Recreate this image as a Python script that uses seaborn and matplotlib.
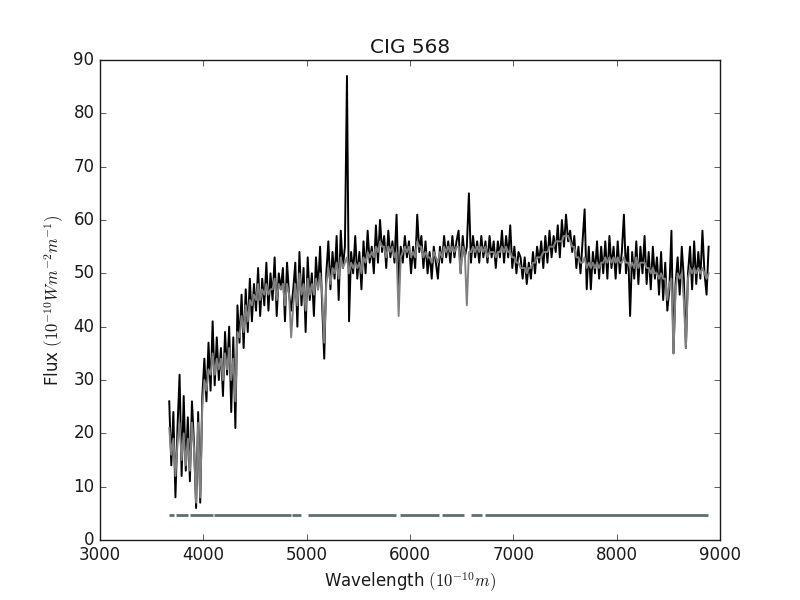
import numpy as np
import pandas as pd
import matplotlib
matplotlib.use("Agg")
import matplotlib.pyplot as plt
import seaborn as sns

# wavelength grid of the spectrum (Angstrom), 20 A sampling
wavelength = np.arange(3670, 8891, 20)

flux_obs = [
    26, 14, 24, 8, 21, 31, 12, 27, 13, 23,
    11, 26, 18, 6, 24, 7, 27, 34, 26, 37,
    28, 41, 29, 38, 30, 36, 27, 39, 31, 40,
    24, 38, 21, 44, 37, 46, 36, 47, 39, 49,
    41, 48, 43, 51, 42, 49, 44, 52, 43, 50,
    45, 53, 42, 50, 47, 51, 41, 52, 46, 43,
    47, 52, 40, 54, 44, 51, 39, 53, 45, 50,
    42, 53, 47, 55, 44, 34, 50, 56, 47, 54,
    49, 57, 45, 58, 51, 55, 87, 41, 54, 50,
    57, 49, 54, 47, 56, 50, 58, 52, 55, 50,
    59, 52, 60, 54, 57, 51, 58, 53, 56, 52,
    61, 47, 55, 52, 57, 53, 56, 50, 55, 51,
    61, 54, 57, 51, 56, 50, 54, 49, 55, 52,
    49, 55, 52, 57, 53, 56, 52, 57, 53, 56,
    58, 50, 57, 53, 55, 65, 52, 57, 53, 56,
    52, 57, 53, 56, 52, 57, 53, 56, 51, 56,
    53, 58, 52, 57, 53, 59, 51, 55, 50, 54,
    53, 49, 53, 48, 52, 49, 54, 50, 55, 52,
    56, 51, 57, 52, 58, 53, 57, 54, 59, 53,
    60, 55, 61, 56, 58, 54, 57, 51, 55, 50,
    56, 62, 47, 55, 47, 54, 50, 56, 49, 55,
    50, 56, 49, 57, 51, 55, 49, 56, 50, 54,
    61, 50, 55, 42, 54, 49, 56, 48, 55, 50,
    57, 48, 54, 47, 55, 49, 53, 46, 54, 45,
    52, 43, 47, 58, 35, 48, 53, 46, 55, 49,
    36, 50, 55, 47, 56, 48, 54, 49, 58, 50,
    46, 55,
]

# synthetic / fitted flux (grey)
flux_fit = [
    21, 16, 19, 12, 18, 22, 15, 20, 14, 19,
    13, 22, 17, 7, 22, 8, 25, 30, 28, 32,
    31, 35, 31, 34, 32, 34, 30, 35, 32, 36,
    30, 34, 26, 39, 38, 42, 39, 44, 41, 45,
    44, 46, 45, 48, 45, 47, 46, 48, 46, 47,
    47, 49, 45, 48, 47, 48, 44, 48, 46, 38,
    44, 48, 44, 50, 46, 48, 43, 49, 46, 48,
    46, 49, 47, 50, 46, 37, 48, 51, 48, 51,
    50, 52, 49, 53, 51, 52, 53, 50, 52, 51,
    52, 51, 52, 50, 53, 52, 54, 53, 54, 53,
    55, 54, 56, 55, 55, 53, 55, 54, 55, 53,
    54, 42, 53, 54, 55, 54, 55, 53, 54, 53,
    56, 55, 55, 53, 54, 53, 53, 52, 54, 53,
    52, 54, 53, 55, 54, 55, 54, 55, 54, 55,
    55, 50, 55, 54, 44, 54, 54, 55, 54, 55,
    54, 55, 54, 55, 53, 54, 54, 54, 53, 54,
    54, 55, 54, 55, 54, 54, 53, 53, 52, 52,
    51, 51, 51, 50, 51, 51, 52, 52, 53, 53,
    53, 54, 54, 54, 55, 55, 55, 56, 56, 56,
    56, 57, 57, 57, 56, 55, 55, 53, 53, 52,
    52, 53, 51, 52, 51, 52, 51, 52, 51, 52,
    52, 53, 52, 53, 52, 53, 52, 53, 52, 52,
    53, 52, 52, 51, 52, 51, 53, 51, 52, 52,
    52, 51, 51, 50, 51, 50, 50, 49, 50, 49,
    49, 45, 48, 49, 35, 47, 50, 49, 50, 45,
    36, 49, 51, 50, 51, 50, 51, 50, 51, 50,
    49, 50,
]

# good-pixel mask segments drawn near the bottom
mask_start = [3663, 3734, 3868, 4105, 4854, 5012, 5899, 6306, 6594, 6728]
mask_end = [3714, 3856, 4093, 4846, 4941, 5868, 6282, 6523, 6700, 8886]
mask_level = 4.6

df = pd.DataFrame({"wave": wavelength, "obs": flux_obs, "fit": flux_fit})

sns.set_theme(style="ticks")
plt.style.use("classic")
plt.rcParams["figure.facecolor"] = "white"
plt.rcParams["savefig.facecolor"] = "white"

fig, ax = plt.subplots(figsize=(8, 6), dpi=100)
sns.lineplot(data=df, x="wave", y="obs", color="black", lw=1.4,
             estimator=None, ax=ax)
sns.lineplot(data=df, x="wave", y="fit", color="grey", lw=1.4,
             estimator=None, ax=ax)
ax.hlines([mask_level] * len(mask_start), mask_start, mask_end,
          color="#5f6e6e", lw=2)

ax.set_xlim(3000, 9000)
ax.set_ylim(0, 90)
ax.set_title("CIG 568")
ax.set_xlabel(r"Wavelength $(10^{-10}m)$")
ax.set_ylabel(r"Flux $(10^{-10} Wm^{-2}m^{-1})$")

fig.savefig("out.png", dpi=100)
